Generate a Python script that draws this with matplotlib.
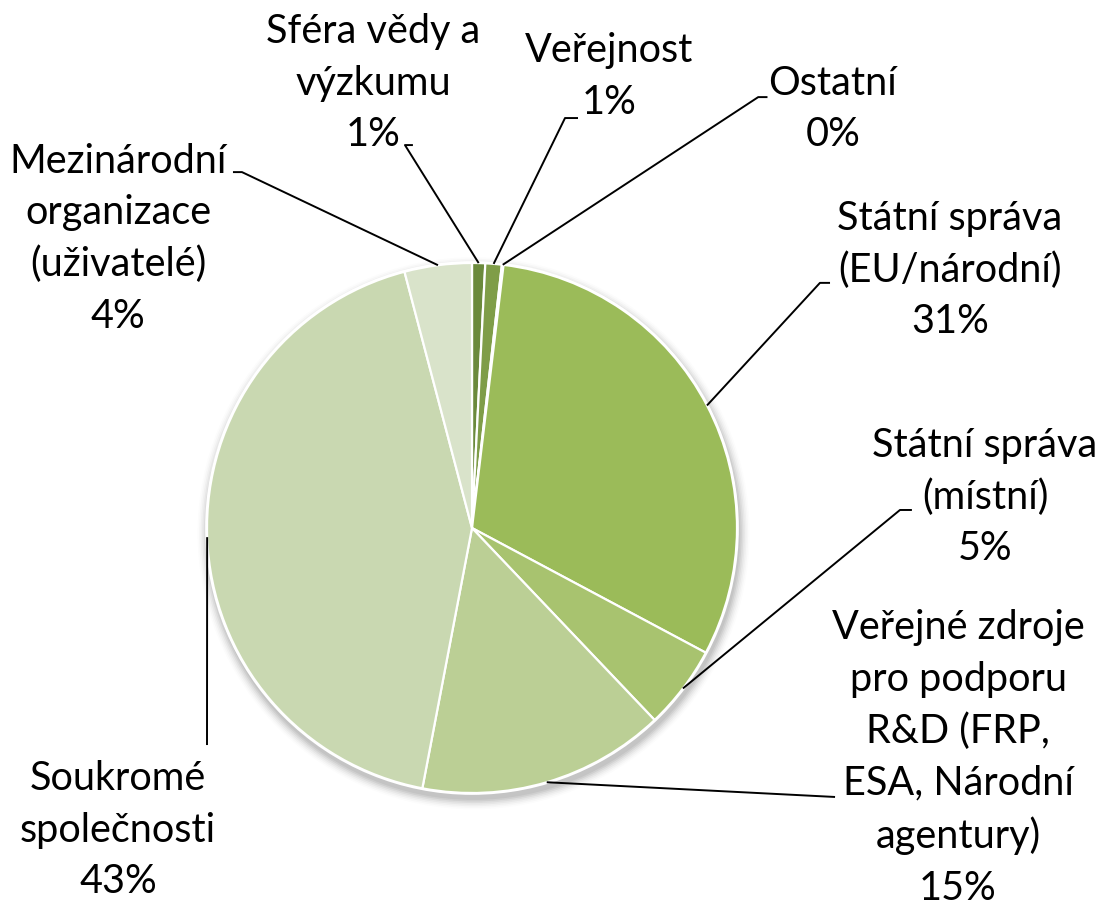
import numpy as np
import matplotlib
matplotlib.use("Agg")
import matplotlib.pyplot as plt
from matplotlib.patches import Circle

# ---- data ----
categories = ["Sféra vědy a\nvýzkumu", "Veřejnost", "Ostatní",
              "Státní správa\n(EU/národní)", "Státní správa\n(místní)",
              "Veřejné zdroje\npro podporu\nR&D (FRP,\nESA, Národní\nagentury)",
              "Soukromé\nspolečnosti", "Mezinárodní\norganizace\n(uživatelé)"]
values = [0.8, 1.0, 0.1, 30.9, 5.1, 15.1, 42.9, 4.1]
colors = ["#6B8A3C", "#7F9D48", "#8FAF52", "#9BBB59", "#A8C36F",
          "#BBCF95", "#C9D8B1", "#D9E3CA"]

# ---- layout (label centres in pie-radius units, centre of pie = 0,0) ----
label_pos = [(-0.374, 1.679), (0.517, 1.704), (1.362, 1.581), (1.804, 0.974),
             (1.936, 0.117), (1.834, -0.868), (-1.336, -1.14), (-1.336, 1.092)]
# where the leader line meets the label (elbow, tick end)
elbows = [((-0.253, 1.445), (-0.223, 1.445)),
          ((0.351, 1.547), (0.40, 1.547)),
          ((1.08, 1.626), (1.115, 1.626)),
          ((1.313, 0.925), (1.351, 0.925)),
          ((1.615, 0.068), (1.66, 0.068)),
          ((1.37, -1.015), (1.37, -1.015)),
          ((-1.0, -0.819), (-1.0, -0.819)),
          ((-0.868, 1.343), (-0.902, 1.343))]

W, H = 1096, 907
fig = plt.figure(figsize=(W / 100, H / 100), dpi=100)
ax = fig.add_axes([0, 0, 1, 1])
R = 265.0
cx, cy = 472.0, 528.0

# soft shadow
for i, a in enumerate(np.linspace(0.06, 0.012, 7)):
    ax.add_patch(Circle((0.006, -0.02), 1.0 + 0.006 * (i + 1), color="black",
                        alpha=a, lw=0, zorder=0))
ax.add_patch(Circle((0, 0), 1.007, color="white", lw=0, zorder=0.5))

wedges, _ = ax.pie(values, colors=colors, startangle=90, counterclock=False,
                   radius=1.0, center=(0, 0),
                   wedgeprops=dict(edgecolor="white", linewidth=1.6),
                   frame=True)
ax.set_xlim(-cx / R, (W - cx) / R)
ax.set_ylim(-(H - cy) / R, cy / R)
ax.set_aspect("equal")
ax.axis("off")

font = dict(family=["Lato", "DejaVu Sans"], fontsize=28.5, color="black")
for w, cat, v, lp, (e0, e1) in zip(wedges, categories, values, label_pos, elbows):
    ang = np.deg2rad((w.theta1 + w.theta2) / 2)
    px, py = np.cos(ang), np.sin(ang)
    ax.text(lp[0], lp[1], f"{cat}\n{v:.0f}%", ha="center", va="center",
            linespacing=1.48, zorder=5, **font)
    ax.plot([px, e0[0], e1[0]], [py, e0[1], e1[1]], color="black", lw=1.4,
            solid_capstyle="butt", zorder=4)

fig.savefig("out.png", dpi=100)
